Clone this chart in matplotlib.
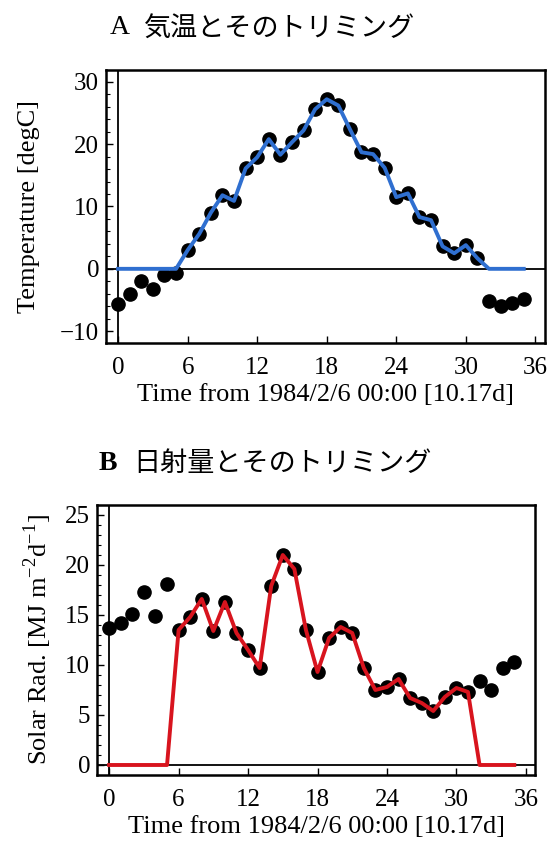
import numpy as np
import matplotlib
matplotlib.use('Agg')
import matplotlib.pyplot as plt
from matplotlib.ticker import MultipleLocator

# hourly-ish samples, index = time step
steps = np.arange(36)

temp = [-5.7, -4.1, -2.0, -3.2, -1.0, -0.7, 3.0, 5.6, 9.0, 11.8,
        10.9, 16.1, 17.9, 20.8, 18.3, 20.3, 22.2, 25.6, 27.2, 26.2,
        22.4, 18.7, 18.4, 16.2, 11.5, 12.1, 8.3, 7.8, 3.6, 2.5,
        3.8, 1.7, -5.2, -6.0, -5.5, -4.8]

solar = [13.7, 14.2, 15.1, 17.3, 14.9, 18.1, 13.5, 14.8, 16.6, 13.4,
         16.3, 13.2, 11.5, 9.7, 17.9, 21.0, 19.6, 13.5, 9.3, 12.7,
         13.8, 13.2, 9.7, 7.5, 7.8, 8.6, 6.7, 6.2, 5.4, 6.8,
         7.7, 7.3, 8.4, 7.5, 9.7, 10.3]

# trimming window (inclusive step indices)
trim_start, trim_end = 6, 31

x_ticks = [0, 6, 12, 18, 24, 30, 36]
x_label = 'Time from 1984/2/6 00:00 [10.17d]'

serif = ['Liberation Serif', 'DejaVu Serif']
jp_font = ['Noto Sans CJK JP', 'DejaVu Sans']


def trimmed(values):
    v = np.asarray(values)
    keep = (steps >= trim_start) & (steps <= trim_end)
    return np.where(keep, v, 0.0)


def draw_panel(ax, values, color, ylim, ymajor, yminor, ylabel):
    ax.axhline(0, color='black', lw=1.3, zorder=1)
    ax.axvline(0, color='black', lw=1.3, zorder=1)
    ax.plot(steps, values, 'o', color='black', ms=9.5, zorder=2)
    ax.plot(steps, trimmed(values), '-', color=color, lw=2.8, zorder=3)

    ax.set_xlim(-1.05, 36.8)
    ax.set_ylim(*ylim)
    ax.set_xticks(x_ticks)
    ax.yaxis.set_major_locator(MultipleLocator(ymajor))
    ax.yaxis.set_minor_locator(MultipleLocator(yminor))
    ax.tick_params(direction='in', length=5, width=1, labelsize=18)
    ax.tick_params(axis='x', pad=10)
    ax.tick_params(axis='y', pad=5)
    ax.tick_params(which='minor', direction='in', length=3, width=0.8)
    ax.set_yticklabels([f'{t:g}'.replace('-', '\u2212') for t in ax.get_yticks()])
    for lbl in ax.get_xticklabels() + ax.get_yticklabels():
        lbl.set_family(serif)
    for s in ax.spines.values():
        s.set_linewidth(1.8)
    ax.set_xlabel(x_label, family=serif, fontsize=19, labelpad=4)
    ax.set_ylabel(ylabel, family=serif, fontsize=19, labelpad=14)


fig = plt.figure(figsize=(5.49, 8.48), dpi=100)

ax1 = fig.add_axes([0.193, 0.5955, 0.799, 0.322])
draw_panel(ax1, temp, '#2f6fd0', (-11.9, 31.9), 10, 2, 'Temperature [degC]')

ax2 = fig.add_axes([0.1767, 0.0861, 0.798, 0.3184])
draw_panel(ax2, solar, '#d8141e', (-1.0, 26.0), 5, 1,
           r'Solar Rad. [MJ m$^{\mathregular{-2}}$d$^{\mathregular{-1}}$]')
ax2.yaxis.labelpad = 8

# panel headings: latin letter in serif, Japanese part in a CJK face
fig.text(0.237, 0.967, 'A', ha='right', va='center', family=serif, fontsize=20)
fig.text(0.262, 0.967, '気温とそのトリミング', ha='left', va='center',
         family=jp_font, fontsize=19.5)
fig.text(0.214, 0.454, 'B', ha='right', va='center', family=serif,
         fontsize=20, fontweight='bold')
fig.text(0.243, 0.454, '日射量とそのトリミング', ha='left', va='center',
         family=jp_font, fontsize=19.5)

fig.savefig('out.png', dpi=100)
